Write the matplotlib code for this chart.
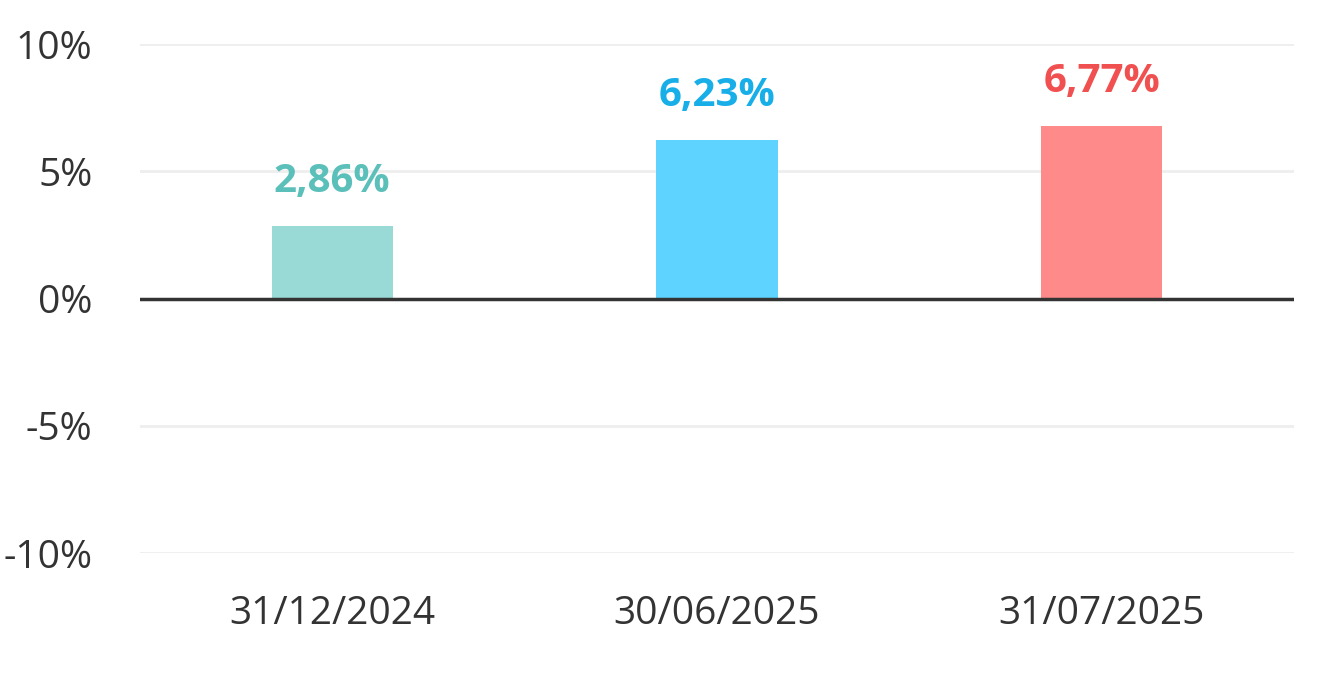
import matplotlib.pyplot as plt
from matplotlib.ticker import FuncFormatter

categories = ["31/12/2024", "30/06/2025", "31/07/2025"]
values = [2.86, 6.23, 6.77]
bar_colors = ["#99D9D6", "#5ED3FF", "#FF8A8A"]
label_colors = ["#5BBFBA", "#18AEE8", "#F0504F"]
yticks = [-10, -5, 0, 5, 10]

plt.rcParams["font.family"] = ["Open Sans", "DejaVu Sans"]

fig = plt.figure(figsize=(13.44, 6.74), dpi=100)
ax = fig.add_axes([0.104, 0.1795, 0.859, 0.7552])

x = range(len(categories))
ax.bar(x, values, width=0.315, color=bar_colors, zorder=3)
for i, v in enumerate(values):
    ax.annotate(f"{v:.2f}%".replace(".", ","), (i, v), xytext=(0, 18),
                textcoords="offset points", ha="center", va="bottom",
                fontsize=29, fontweight="bold", color=label_colors[i])

ax.set_xlim(-0.5, 2.5)
ax.set_ylim(-10, 10)
ax.set_yticks(yticks)
ax.yaxis.set_major_formatter(FuncFormatter(lambda v, _: f"{v:.0f}%"))
ax.set_xticks(list(x))
ax.set_xticklabels(categories)
ax.tick_params(length=0, labelsize=28, labelcolor="#333333")
ax.tick_params(axis="x", pad=30)
ax.tick_params(axis="y", pad=34)
for lab in ax.get_yticklabels():
    lab.set_horizontalalignment("right")
ax.grid(axis="y", color="#EEEEEE", linewidth=2, zorder=0)
ax.axhline(0, color="#333333", linewidth=2.5, zorder=4)
for s in ax.spines.values():
    s.set_visible(False)

fig.savefig("out.png", dpi=100)
